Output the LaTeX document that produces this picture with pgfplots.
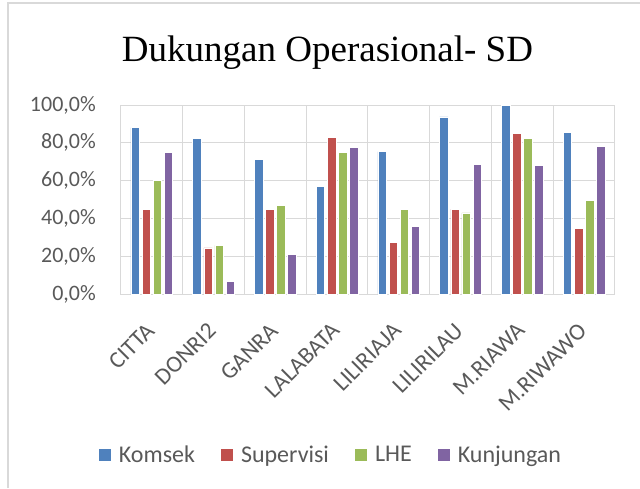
\documentclass[border=0pt]{standalone}
\usepackage{pgfplots}
\pgfplotsset{compat=1.18}
\usepackage{fontspec}
\setmainfont{Carlito}
\newfontfamily\titlefont{Liberation Serif}
\definecolor{cKom}{HTML}{4F81BD}
\definecolor{cSup}{HTML}{C0504D}
\definecolor{cLHE}{HTML}{9BBB59}
\definecolor{cKun}{HTML}{8064A2}
\definecolor{gridc}{HTML}{D9D9D9}
\definecolor{txt}{HTML}{595959}
\begin{document}
\begin{tikzpicture}
\begin{axis}[
  at={(0pt,0pt)}, anchor=south west,
  scale only axis, width=494pt, height=189.4pt,
  ybar=2.6pt, bar width=8.5pt,
  xmin=-0.5, xmax=7.5, ymin=0, ymax=100,
  xtick={0,...,7},
  xticklabels={CITTA,DONRI2,GANRA,LALABATA,LILIRIAJA,LILIRILAU,M.RIAWA,M.RIWAWO},
  minor xtick={-0.5,0.5,...,7.5},
  xminorgrids, ymajorgrids,
  ytick={0,20,...,100},
  major tick length=0pt, minor tick length=0pt,
  grid style={gridc, line width=1pt},
  minor grid style={gridc, line width=1pt},
  axis line style={gridc, line width=1pt},
  /pgf/number format/assume math mode=true,
  yticklabel={\pgfmathprintnumber[fixed, fixed zerofill, precision=1, use comma]{\tick}\%},
  ticklabel style={font=\fontsize{22}{26}\selectfont, text=txt},
  yticklabel style={inner sep=0pt, anchor=east, xshift=-25pt},
  xticklabel style={font=\fontsize{23.5}{27}\selectfont, xshift=-7pt, yshift=-27pt, rotate=45, anchor=north east, inner sep=0pt},
  title={\titlefont\fontsize{37}{42}\selectfont Dukungan Operasional- SD},
  title style={at={(0.418,1.2006)}, anchor=base, inner sep=0pt},
  legend columns=4,
  legend style={at={(0.423,-0.848)}, anchor=center, draw=none, fill=none,
    font=\fontsize{24}{28}\selectfont, text=txt,
    nodes={inner sep=0pt},
    /tikz/every odd column/.append style={column sep=8pt},
    /tikz/every even column/.append style={column sep=26pt}},
  legend image code/.code={\draw[#1, draw=none] (0pt,-6pt) rectangle (12pt,6pt);},
  every axis plot/.append style={draw=white, line width=0.6pt},
]
\addplot[fill=cKom] coordinates {(0,88) (1,82.2) (2,71.3) (3,57.2) (4,75.4) (5,93.7) (6,100) (7,85.6)};
\addplot[fill=cSup] coordinates {(0,45) (1,24.6) (2,45) (3,82.7) (4,27.5) (5,45) (6,84.9) (7,34.9)};
\addplot[fill=cLHE] coordinates {(0,60) (1,25.9) (2,47) (3,74.8) (4,44.9) (5,43) (6,82.4) (7,49.6)};
\addplot[fill=cKun] coordinates {(0,74.8) (1,7) (2,21.1) (3,77.6) (4,36.1) (5,68.7) (6,68) (7,78.2)};
\legend{Komsek,Supervisi,LHE,Kunjungan}
\end{axis}
\draw[gridc, line width=2pt] (-113pt,-193.6pt) -- (-113pt,291.4pt) -- (519pt,291.4pt);
\pgfresetboundingbox
\path[use as bounding box] (-121pt,-193.6pt) rectangle (519pt,294.4pt);
\end{tikzpicture}
\end{document}
